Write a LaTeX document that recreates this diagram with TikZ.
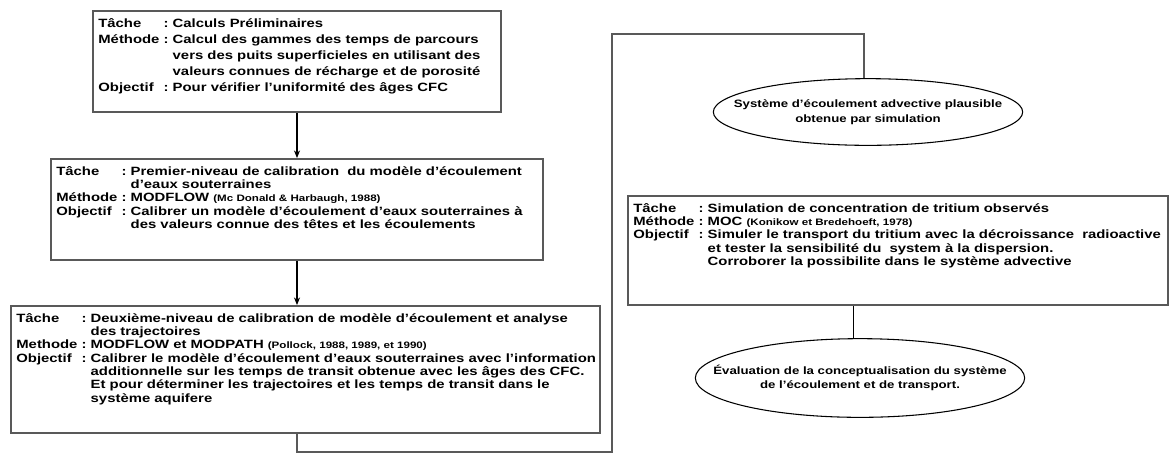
\documentclass[tikz,border=0pt]{standalone}
\usepackage{fontspec}
\setmainfont[FakeStretch=1.24]{Liberation Sans}
\usetikzlibrary{arrows.meta,positioning,shapes.geometric,calc}

% petite police pour les references
\newcommand{\refsrc}[1]{{\fontsize{7}{8}\selectfont #1}}
% cadre de texte : hauteur, largeur, lignes
\newcommand{\fiche}[3]{\parbox[t][#1][t]{#2}{%
  \begin{tabular}{@{}l@{\ }l@{\ }l@{}}#3\end{tabular}}}

\begin{document}
\begin{tikzpicture}[x=0.75pt, y=-0.75pt,
  every node/.style={font=\bfseries\fontsize{9}{10}\selectfont},
  tache/.style={draw=black!65, line width=1.5pt, anchor=north west,
                inner xsep=4pt, inner ysep=5pt},
  bulle/.style={draw, ellipse, line width=0.8pt, align=center,
                font=\bfseries\fontsize{8}{11}\selectfont,
                inner xsep=-40pt, inner ysep=-12pt},
  arrow/.style={-{Stealth[length=2mm, width=1.6mm]}, line width=0.8pt},
  lien/.style={draw=black!65, line width=1.5pt}]
  \useasboundingbox (0,0) rectangle (1172,455);

  \node[tache] (calc) at (92,10) {\fiche{66pt}{298pt}{%
    Tâche & : & Calculs Préliminaires\\[2pt]
    Méthode & : & Calcul des gammes des temps de parcours\\[2pt]
    & & vers des puits superficieles en utilisant des\\[2pt]
    & & valeurs connues de récharge et de porosité\\[2pt]
    Objectif & : & Pour vérifier l'uniformité des âges CFC}};
  \node[tache] (premier) at (50,158) {\fiche{66pt}{361pt}{%
    Tâche & : & Premier-niveau de calibration\ \ du modèle d'écoulement\\
    & & d'eaux souterraines\\
    Méthode & : & MODFLOW \refsrc{(Mc Donald \& Harbaugh, 1988)}\\
    Objectif & : & Calibrer un modèle d'écoulement d'eaux souterraines à\\
    & & des valeurs connue des têtes et les écoulements}};
  \node[tache] (deux) at (10,305) {\fiche{85pt}{434pt}{%
    Tâche & : & Deuxième-niveau de calibration de modèle d'écoulement et analyse\\
    & & des trajectoires\\
    Methode & : & MODFLOW et MODPATH \refsrc{(Pollock, 1988, 1989, et 1990)}\\
    Objectif & : & Calibrer le modèle d'écoulement d'eaux souterraines avec l'information\\
    & & additionnelle sur les temps de transit obtenue avec les âges des CFC.\\
    & & Et pour déterminer les trajectoires et les temps de transit dans le\\
    & & système aquifere}};

  \node[bulle, minimum width=232pt, minimum height=50pt] (simu) at (868,112)
    {Système d'écoulement advective plausible\\obtenue par simulation};
  \node[tache] (tritium) at (627,195) {\fiche{72pt}{397pt}{%
    Tâche & : & Simulation de concentration de tritium observés\\
    Méthode & : & MOC \refsrc{(Konikow et Bredehoeft, 1978)}\\
    Objectif & : & Simuler le transport du tritium avec la décroissance\ \ radioactive\\
    & & et tester la sensibilité du\ \ system à la dispersion.\\
    & & Corroborer la possibilite dans le système advective}};
  \node[bulle, minimum width=247pt, minimum height=59pt] (eval) at (860,378)
    {Évaluation de la conceptualisation du système\\de l'écoulement et de transport.};

  \coordinate (c1) at (612,452);
  \coordinate (c2) at (612,34);

  \draw[arrow] (calc.south) -- (calc.south |- premier.north);
  \draw[arrow] (premier.south) -- (premier.south |- deux.north);
  \draw[lien] (premier.south |- deux.south) |- (c1) -- (c2) -| (simu.97);
  \draw[line width=0.8pt] (eval.99 |- tritium.south) -- (eval.99);
\end{tikzpicture}
\end{document}
